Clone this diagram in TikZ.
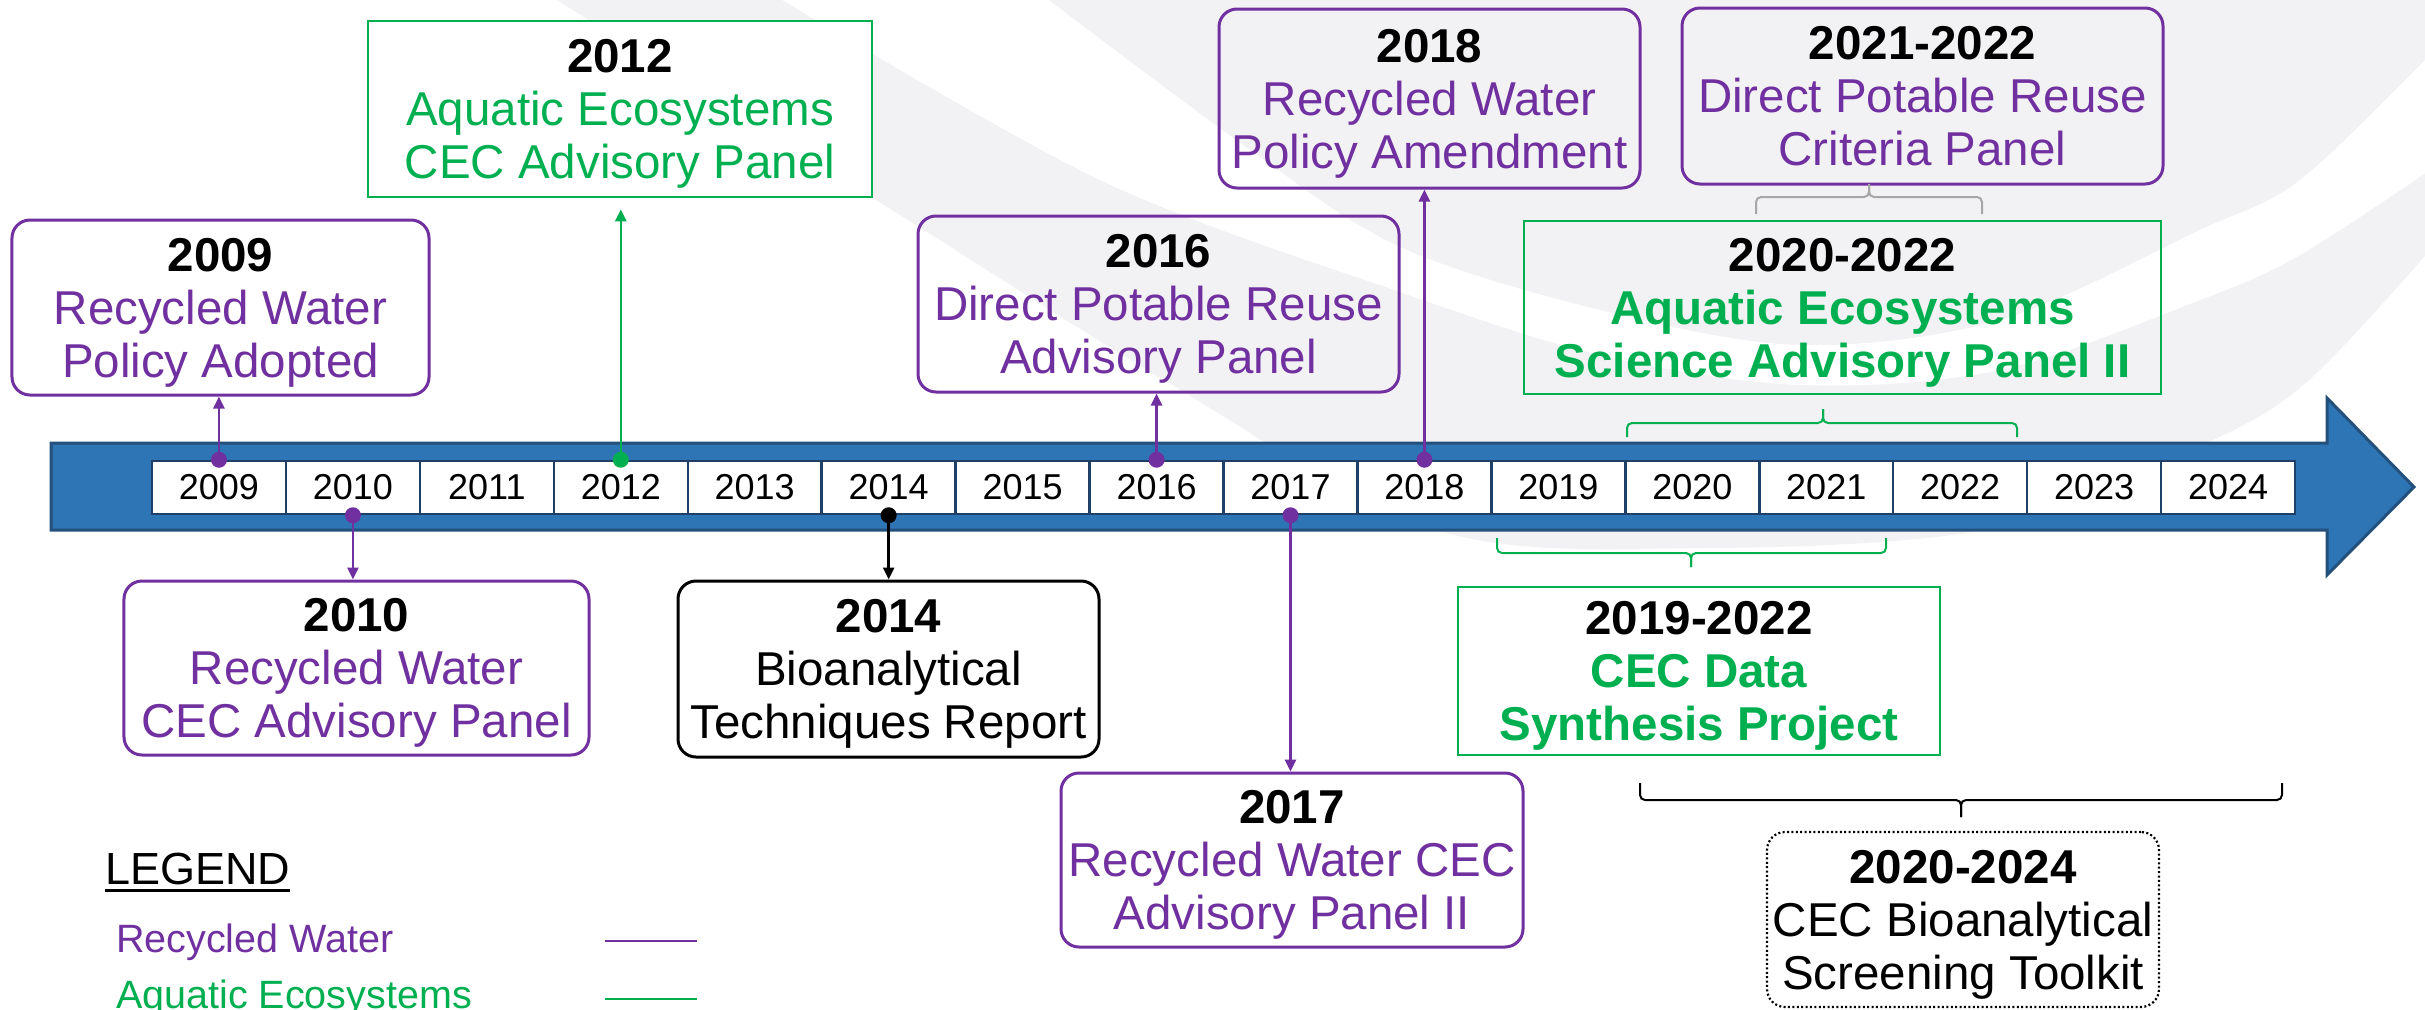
\documentclass[tikz,border=0pt]{standalone}
\usepackage{fontspec}
\setmainfont{Liberation Sans}
\usetikzlibrary{arrows.meta,calc}

\definecolor{rwpurple}{HTML}{7030A0}
\definecolor{aegreen}{HTML}{00B050}
\definecolor{arrowblue}{HTML}{2E75B6}
\definecolor{arrowedge}{HTML}{24507C}
\definecolor{celledge}{HTML}{1F3F66}
\definecolor{swoosh}{HTML}{F2F2F4}
\definecolor{bracegray}{HTML}{A6A6A6}

\newcommand{\yearhd}[1]{\textcolor{black}{\bfseries #1}}
% bracket with a centre spike: style, x1, x2, xm, y at the ends, y of the bar, y of the spike
\newcommand{\spanbracket}[7]{%
  \draw[#1, rounded corners=5bp] (#2,#5) -- (#2,#6) -- (#4,#6) -- (#4,#7);
  \draw[#1, rounded corners=5bp] (#3,#5) -- (#3,#6) -- (#4,#6) -- (#4,#7);}

\begin{document}
\begin{tikzpicture}[x=1bp,y=-1bp,
  boxtext/.style={font=\fontsize{47.5bp}{53bp}\selectfont, align=center, inner sep=0pt, text depth=0bp},
  boldtext/.style={font=\fontsize{47.5bp}{53bp}\selectfont\bfseries},
  rwbox/.style={boxtext, draw=rwpurple, line width=3bp, rounded corners=18bp, text=rwpurple},
  aebox/.style={boxtext, draw=aegreen, line width=2.5bp, text=aegreen},
  bkbox/.style={boxtext, draw=black, line width=3bp, rounded corners=18bp, text=black},
  tkbox/.style={boxtext, draw=black, line width=2.2bp, dash pattern=on 2bp off 2.4bp, rounded corners=18bp, text=black},
  yearcell/.style={draw=celledge, line width=2.5bp, fill=white, minimum width=133.94bp,
    minimum height=53bp, inner sep=0pt, font=\fontsize{36bp}{40bp}\selectfont},
  dotmark/.style={circle, inner sep=0pt, minimum size=16bp},
  tip/.style={-{Triangle[length=12bp,width=11bp]}},
  rwline/.style={draw=rwpurple, line width=2.5bp, tip},
  aeline/.style={draw=aegreen, line width=2.5bp, tip},
  bkline/.style={draw=black, line width=2.5bp, tip},
  legtext/.style={anchor=base west, inner sep=0pt, font=\fontsize{39.5bp}{44bp}\selectfont}
]
\useasboundingbox (0,0) rectangle (2425,1009);
\fill[white] (0,0) rectangle (2425,1009);

% decorative swoosh in the background
\begin{scope}
  \clip (0,0) rectangle (2425,1009);
  \fill[swoosh] plot[smooth, tension=0.55] coordinates {(549,-5) (900,215) (1164,380) (1436,530) (1709,548) (2000,527) (2209,442) (2309,380) (2430,250)} -- (2430,-5) -- cycle;
  \fill[white] plot[smooth, tension=0.55] coordinates {(774,-5) (1100,180) (1400,292) (1600,355) (1800,385) (2000,370) (2200,300) (2300,255) (2430,170)}
    -- plot[smooth, tension=0.55] coordinates {(2430,55) (2300,180) (2200,230) (2000,320) (1800,345) (1600,310) (1400,247) (1250,150) (1042,-5)} -- cycle;
\end{scope}

% timeline arrow
\filldraw[fill=arrowblue, draw=arrowedge, line width=3bp, line join=miter]
  (51,443) -- (2327,443) -- (2327,398) -- (2414,487) -- (2327,575) -- (2327,530) -- (51,530) -- cycle;

% year cells
\foreach \yr [evaluate=\yr as \cx using {152+(\yr-2009+0.5)*133.94}] in {2009,...,2024}
  \node[yearcell] (y\yr) at (\cx,487.5) {\yr};

% event boxes
\node[rwbox, fill=white, minimum width=417bp, minimum height=175bp] (b2009) at (220.5,307.5)
  {\yearhd{2009}\\Recycled Water\\Policy Adopted};
\node[aebox, fill=white, minimum width=504bp, minimum height=176bp] (b2012) at (620,109)
  {\yearhd{2012}\\Aquatic Ecosystems\\CEC Advisory Panel};
\node[rwbox, minimum width=481bp, minimum height=176bp] (b2016) at (1158.5,304)
  {\yearhd{2016}\\Direct Potable Reuse\\Advisory Panel};
\node[rwbox, minimum width=421bp, minimum height=179bp] (b2018) at (1429.5,98.5)
  {\yearhd{2018}\\Recycled Water\\Policy Amendment};
\node[rwbox, minimum width=481bp, minimum height=176bp] (b2122) at (1922.5,96)
  {\yearhd{2021-2022}\\Direct Potable Reuse\\Criteria Panel};
\node[aebox, boldtext, minimum width=637bp, minimum height=173bp] (b2022) at (1842.5,307.5)
  {\yearhd{2020-2022}\\Aquatic Ecosystems\\Science Advisory Panel II};
\node[rwbox, fill=white, minimum width=465bp, minimum height=174bp] (b2010) at (356.5,668)
  {\yearhd{2010}\\Recycled Water\\CEC Advisory Panel};
\node[bkbox, fill=white, minimum width=421bp, minimum height=176bp] (b2014) at (888.5,669)
  {\yearhd{2014}\\Bioanalytical\\Techniques Report};
\node[rwbox, fill=white, minimum width=462bp, minimum height=174bp] (b2017) at (1292,860)
  {\yearhd{2017}\\Recycled Water CEC\\Advisory Panel II};
\node[aebox, boldtext, fill=white, minimum width=482bp, minimum height=168bp] (b1922) at (1699,671)
  {\yearhd{2019-2022}\\CEC Data\\Synthesis Project};
\node[tkbox, fill=white, minimum width=392bp, minimum height=175bp] (b2024) at (1963,919.5)
  {\yearhd{2020-2024}\\CEC Bioanalytical\\Screening Toolkit};

% markers on the year cells
\node[dotmark, fill=rwpurple] (d2009) at (y2009.north) {};
\node[dotmark, fill=aegreen]  (d2012) at (y2012.north) {};
\node[dotmark, fill=rwpurple] (d2016) at (y2016.north) {};
\node[dotmark, fill=rwpurple] (d2018) at (y2018.north) {};
\node[dotmark, fill=rwpurple] (d2010) at (y2010.south) {};
\node[dotmark, fill=black]    (d2014) at (y2014.south) {};
\node[dotmark, fill=rwpurple] (d2017) at (y2017.south) {};

% connectors
\draw[rwline] (d2009) -- (d2009 |- b2009.south);
\draw[aeline] (d2012) -- ($(d2012 |- b2012.south)+(0,11)$);
\draw[rwline] (d2016) -- (d2016 |- b2016.south);
\draw[rwline] (d2018) -- (d2018 |- b2018.south);
\draw[rwline] (d2010) -- (d2010 |- b2010.north);
\draw[bkline] (d2014) -- (d2014 |- b2014.north);
\draw[rwline] (d2017) -- (d2017 |- b2017.north);

% spans
\spanbracket{bracegray, line width=2bp}{1756}{1982}{1869}{214}{197}{184}
\spanbracket{aegreen, line width=2bp}{1627}{2017}{1823}{437}{423}{409}
\spanbracket{aegreen, line width=2bp}{1497}{1886}{1691}{538}{553}{567}
\spanbracket{black, line width=2bp}{1640}{2282}{1961}{783}{800}{817}

% legend
\node[anchor=base west, inner sep=0pt, font=\fontsize{45bp}{50bp}\selectfont] (leg) at (105,884) {LEGEND};
\draw[line width=3bp] ([yshift=-6bp]leg.base west) -- ([yshift=-6bp]leg.base east);
\node[legtext, text=rwpurple] (lrw) at (116,952) {Recycled Water};
\node[legtext, text=aegreen] (lae) at (116,1008) {Aquatic Ecosystems};
\draw[rwpurple, line width=2.5bp] (605,941) -- (697,941);
\draw[aegreen, line width=2.5bp] (605,999) -- (697,999);
\end{tikzpicture}
\end{document}
